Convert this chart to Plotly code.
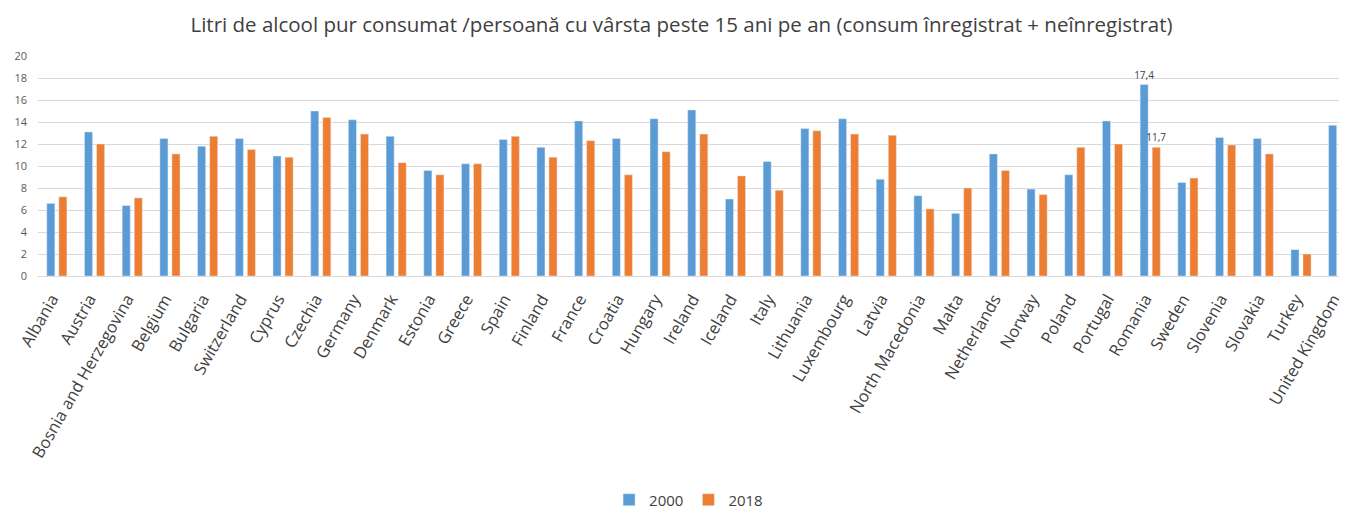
import plotly.graph_objects as go

countries = ["Albania", "Austria", "Bosnia and Herzegovina", "Belgium", "Bulgaria", "Switzerland",
             "Cyprus", "Czechia", "Germany", "Denmark", "Estonia", "Greece", "Spain", "Finland",
             "France", "Croatia", "Hungary", "Ireland", "Iceland", "Italy", "Lithuania", "Luxembourg",
             "Latvia", "North Macedonia", "Malta", "Netherlands", "Norway", "Poland", "Portugal",
             "Romania", "Sweden", "Slovenia", "Slovakia", "Turkey", "United Kingdom"]

y2000 = [6.6, 13.1, 6.4, 12.5, 11.8, 12.5, 10.9, 15.0, 14.2, 12.7, 9.6, 10.2, 12.4, 11.7,
         14.1, 12.5, 14.3, 15.1, 7.0, 10.4, 13.4, 14.3, 8.8, 7.3, 5.7, 11.1, 7.9, 9.2, 14.1,
         17.4, 8.5, 12.6, 12.5, 2.4, 13.7]
y2018 = [7.2, 12.0, 7.1, 11.1, 12.7, 11.5, 10.8, 14.4, 12.9, 10.3, 9.2, 10.2, 12.7, 10.8,
         12.3, 9.2, 11.3, 12.9, 9.1, 7.8, 13.2, 12.9, 12.8, 6.1, 8.0, 9.6, 7.4, 11.7, 12.0,
         11.7, 8.9, 11.9, 11.1, 2.0, 11.4]

labels2000 = ["17,4" if c == "Romania" else "" for c in countries]
labels2018 = ["11,7" if c == "Romania" else "" for c in countries]

title = "Litri de alcool pur consumat /persoană cu vârsta peste 15 ani pe an (consum înregistrat + neînregistrat)"

FONT = "Open Sans"
fig = go.Figure()
fig.add_trace(go.Bar(name="2000", x=countries, y=y2000, marker_color="#5B9BD5",
                     text=labels2000, textposition="outside", constraintext="none",
                     textfont=dict(size=10, color="#404040", family=FONT), cliponaxis=False))
fig.add_trace(go.Bar(name="2018", x=countries, y=y2018, marker_color="#ED7D31",
                     text=labels2018, textposition="outside", constraintext="none",
                     textfont=dict(size=10, color="#404040", family=FONT), cliponaxis=False))

# the page body has an 8px margin, so the figure is 8px smaller than the window
fig.update_layout(
    width=1339, height=503,
    margin=dict(l=30, r=0, t=48, b=235, autoexpand=False),
    paper_bgcolor="white", plot_bgcolor="white",
    barmode="group", bargap=0.36, bargroupgap=0.33,
    font=dict(family=FONT, color="#595959"),
    title=dict(text=title, x=0.503, xanchor="center", y=0.966, yanchor="middle",
               font=dict(size=20.5, color="#404040", family=FONT)),
    legend=dict(orientation="h", x=0.497, xanchor="center", y=-1.018, yanchor="middle",
                font=dict(size=15, color="#404040"), itemwidth=30, traceorder="normal"),
    showlegend=True,
)
fig.update_yaxes(range=[0, 20], dtick=2, showgrid=True, gridcolor="#d9d9d9", gridwidth=1,
                 zeroline=False, showline=False, tickfont=dict(size=11, color="#595959"),
                 ticks="", ticklabelstandoff=10, automargin=False)
fig.update_xaxes(range=[-0.5, 34.22], tickangle=-60, tickfont=dict(size=16.5, color="#404040"),
                 showline=True, linecolor="#d9d9d9", linewidth=1, ticks="", showgrid=False,
                 ticklabelshift=-5, ticklabelstandoff=6, automargin=False)

fig.write_html("out.html")
